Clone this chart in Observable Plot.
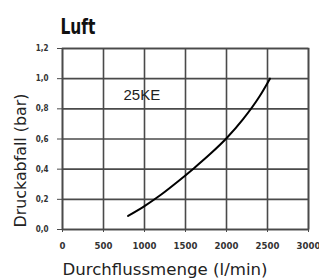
<!DOCTYPE html>
<html><head><meta charset="utf-8">
<script src="https://cdn.jsdelivr.net/npm/d3@7"></script>
<script src="https://cdn.jsdelivr.net/npm/@observablehq/plot@0.6"></script>
<style>
body{margin:0;background:#fff;}
</style>
</head><body>
<div id="chart"></div>
<script>
const titleText = ["Luft"];
const xLabel = ["Durchflussmenge (l/min)"];
const yLabel = ["Druckabfall (bar)"];
const flow = [800, 1000, 1200, 1400, 1600, 1800, 2000, 2200, 2400, 2530];
const pressure = [0.09, 0.155, 0.23, 0.315, 0.405, 0.5, 0.605, 0.73, 0.88, 1.0];
const xTicks = [0, 500, 1000, 1500, 2000, 2500, 3000];
const yTicks = [0, 0.2, 0.4, 0.6, 0.8, 1.0, 1.2];
const seriesName = ["25KE"];
const labelX = [744];
const labelY = [0.89];

const data = flow.map((f, i) => ({f, p: pressure[i]}));
const fmtY = d => d.toFixed(1).replace(".", ",");
const gridColor = "#4a4a4a";
const condensed = '"DejaVu Sans Condensed","Liberation Sans Narrow",sans-serif';

const plot = Plot.plot({
  width: 319, height: 278,
  marginLeft: 62, marginRight: 11, marginTop: 48, marginBottom: 49,
  style: {fontFamily: condensed, background: "#fff"},
  x: {domain: [0, 3000], ticks: xTicks, label: null},
  y: {domain: [0, 1.2], ticks: yTicks, label: null},
  marks: [
    Plot.gridX(xTicks, {stroke: gridColor, strokeOpacity: 1, strokeWidth: 1.6}),
    Plot.gridY(yTicks, {stroke: gridColor, strokeOpacity: 1, strokeWidth: 1.6}),
    Plot.frame({stroke: gridColor, strokeWidth: 1.6}),
    Plot.axisX({ticks: xTicks, tickSize: 3, tickPadding: 10, stroke: gridColor, fontSize: 9.5, fontWeight: "bold", fill: "#333",
      tickFormat: d => String(d), label: null}),
    Plot.axisY({ticks: yTicks, tickSize: 5, tickPadding: 9, stroke: gridColor, fontSize: 8, fontWeight: "bold", fill: "#333",
      tickFormat: fmtY, label: null}),
    Plot.line(data, {x: "f", y: "p", curve: "monotone-x", stroke: "#000", strokeWidth: 2}),
    Plot.text(seriesName, {x: labelX, y: labelY, text: d => d, textAnchor: "start", fontSize: 15, fill: "#222", fontFamily: '"Liberation Sans","Arial",sans-serif'}),
    Plot.text(titleText, {frameAnchor: "top-left", dx: -2, dy: -15, lineAnchor: "bottom", textAnchor: "start", text: d => d, fontSize: 22, fontWeight: "bold", fill: "#111"}),
    Plot.text(xLabel, {frameAnchor: "bottom-left", dx: 0, dy: 45, lineAnchor: "bottom", textAnchor: "start", text: d => d, fontSize: 16, fill: "#222"}),
    Plot.text(yLabel, {frameAnchor: "bottom-left", dx: -42, dy: -2, rotate: -90, lineAnchor: "middle", textAnchor: "start", text: d => d, fontSize: 16, fill: "#222"})
  ]
});
const fits = new Map([[titleText[0], 35], [xLabel[0], 205], [yLabel[0], 134]]);
plot.querySelectorAll("text").forEach(t => {
  const len = fits.get(t.textContent);
  if (len) { t.setAttribute("textLength", len); t.setAttribute("lengthAdjust", "spacingAndGlyphs"); }
});
document.getElementById("chart").appendChild(plot);
</script>
</body></html>
